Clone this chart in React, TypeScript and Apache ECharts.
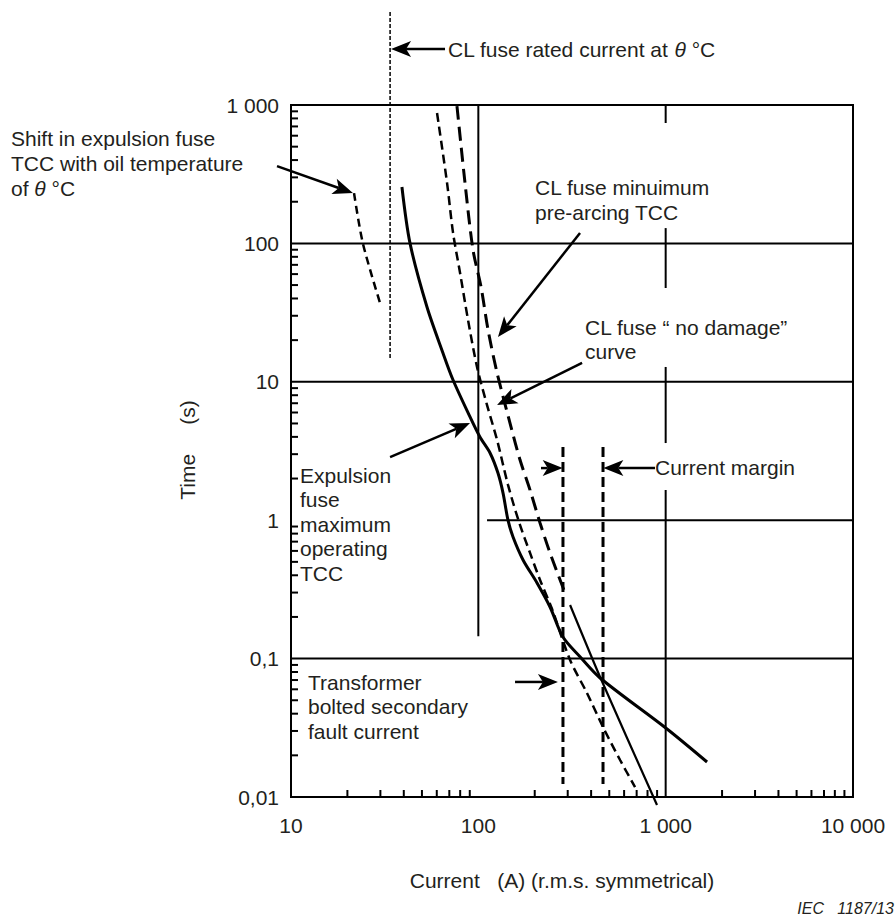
import React, { useEffect, useRef } from "react";
import * as echarts from "echarts";

// ---- Axis tick labels (decades) ----
const xTickLabels = ["10", "100", "1 000", "10 000"];
const yTickLabels = ["0,01", "0,1", "1", "10", "100", "1 000"];
const xDecades = [10, 100, 1000];
const yDecades = [0.01, 0.1, 1, 10, 100];
const minorMultipliers = [2, 3, 4, 5, 6, 7, 8, 9];

// ---- Curves: current (A) vs time (s) ----
const shiftCurrent = [21.7, 24.2, 29.9];
const shiftTime = [231, 100, 37];

const ratedCurrent = [33.8, 33.8];
const ratedTime = [4700, 14.4];

const expulsionCurrent = [39.1, 43.2, 53.2, 64.8, 73.3, 90.3, 102, 115.5, 127.3, 135.5, 144, 153.2, 173.3, 205.8, 241.4, 283, 349, 446.6, 1017, 1663];
const expulsionTime = [255.6, 100, 34.7, 16.1, 10.3, 5.57, 3.99, 3.06, 2.19, 1.57, 1.0, 0.756, 0.516, 0.352, 0.236, 0.143, 0.103, 0.0724, 0.031, 0.0179];

const preArcCurrent = [76.9, 84.9, 93.7, 103.4, 112.7, 125.9, 149.5, 167, 188.8, 213.5, 241.4, 290.3];
const preArcTime = [983, 273, 89.6, 48.4, 23.7, 11.6, 4.71, 2.72, 1.65, 0.955, 0.58, 0.298];

const clearCurrent = [308.8, 446.6, 899];
const clearTime = [0.244, 0.0736, 0.00875];

const noDamageCurrent = [60.2, 68.1, 73.3, 79.9, 88.1, 98.4, 111.3, 125.9, 144, 164.9, 188.8, 213.5, 247.5, 308.8, 380, 463, 571, 686.5];
const noDamageTime = [875, 273, 119, 61.1, 28.0, 12.8, 6.79, 3.8, 1.8, 0.97, 0.58, 0.37, 0.228, 0.0977, 0.0564, 0.032, 0.0185, 0.0118];

const marginLowCurrent = [283, 283];
const marginHighCurrent = [463, 463];
const marginTime = [3.38, 0.0124];

// ---- Grid line segments [x1, y1, x2, y2] in data units ----
const gridSegments = [
  [10, 100, 10000, 100],
  [10, 10, 10000, 10],
  [111.3, 1, 10000, 1],
  [10, 0.1, 10000, 0.1],
  [100, 1000, 100, 0.145],
  [1000, 1000, 1000, 741],
  [1000, 129, 1000, 47.6],
  [1000, 12.8, 1000, 3.61],
  [1000, 1.65, 1000, 0.01],
];

// ---- Annotation arrows [tailX, tailY, headX, headY] in data units ----
const arrows = [
  [66.4, 2539, 34.2, 2539],
  [8.42, 362, 21.4, 231],
  [349, 119, 127.3, 21.1],
  [358, 13.7, 125.9, 6.79],
  [33.8, 2.86, 90.3, 5.04],
  [216, 2.38, 282, 2.38],
  [877, 2.38, 465, 2.38],
  [157, 0.0678, 266, 0.0678],
];

const zip = (a: number[], b: number[]) => a.map((v, i) => [v, b[i]]);

const TEXT = "#231f20";
const FONT = "Liberation Sans, Arial, sans-serif";

export default function App() {
  const ref = useRef<HTMLDivElement>(null);

  useEffect(() => {
    if (!ref.current) return;
    const chart = echarts.init(ref.current, undefined, { renderer: "svg" });

    const xMinor: number[][] = [];
    xDecades.forEach((d) => minorMultipliers.forEach((m) => xMinor.push([d * m, 0.01])));
    const yMinor: number[][] = [];
    yDecades.forEach((d) => minorMultipliers.forEach((m) => yMinor.push([10, d * m])));

    const lineSeries = (data: number[][], width: number, type: any, smooth: any = false) => ({
      type: "line",
      data,
      showSymbol: false,
      symbol: "none",
      smooth,
      clip: false,
      silent: true,
      lineStyle: { color: "#000", width, type, cap: "butt" },
      z: 5,
    });

    const option: any = {
      animation: false,
      grid: {
        left: 291,
        right: 43,
        top: 105,
        bottom: 118,
        show: true,
        borderColor: "#000",
        borderWidth: 2,
      },
      xAxis: {
        type: "log",
        logBase: 10,
        min: 10,
        max: 10000,
        axisLine: { show: true, lineStyle: { color: "#000", width: 2 } },
        axisTick: { show: false },
        splitLine: { show: false },
        axisLabel: {
          margin: 18,
          fontSize: 21,
          fontFamily: FONT,
          color: TEXT,
          formatter: (v: number) => xTickLabels[Math.round(Math.log10(v)) - 1] ?? "",
        },
      },
      yAxis: {
        type: "log",
        logBase: 10,
        min: 0.01,
        max: 1000,
        axisLine: { show: true, lineStyle: { color: "#000", width: 2 } },
        axisTick: { show: false },
        splitLine: { show: false },
        axisLabel: {
          margin: 12,
          fontSize: 21,
          fontFamily: FONT,
          color: TEXT,
          formatter: (v: number) => yTickLabels[Math.round(Math.log10(v)) + 2] ?? "",
        },
      },
      series: [
        {
          type: "custom",
          coordinateSystem: "cartesian2d",
          silent: true,
          data: gridSegments,
          encode: { x: [0, 2], y: [1, 3] },
          renderItem: (_p: any, api: any) => {
            const a = api.coord([api.value(0), api.value(1)]);
            const b = api.coord([api.value(2), api.value(3)]);
            return {
              type: "line",
              shape: { x1: a[0], y1: a[1], x2: b[0], y2: b[1] },
              style: { stroke: "#000", lineWidth: 2 },
            };
          },
          z: 2,
        },
        {
          type: "custom",
          coordinateSystem: "cartesian2d",
          silent: true,
          data: xMinor,
          renderItem: (_p: any, api: any) => {
            const a = api.coord([api.value(0), api.value(1)]);
            return {
              type: "line",
              shape: { x1: a[0], y1: a[1], x2: a[0], y2: a[1] - 7 },
              style: { stroke: "#000", lineWidth: 2 },
            };
          },
          z: 2,
        },
        {
          type: "custom",
          coordinateSystem: "cartesian2d",
          silent: true,
          data: yMinor,
          renderItem: (_p: any, api: any) => {
            const a = api.coord([api.value(0), api.value(1)]);
            return {
              type: "line",
              shape: { x1: a[0], y1: a[1], x2: a[0] + 7, y2: a[1] },
              style: { stroke: "#000", lineWidth: 2 },
            };
          },
          z: 2,
        },
        lineSeries(zip(shiftCurrent, shiftTime), 2.5, [8, 5], 0.3),
        lineSeries(zip(ratedCurrent, ratedTime), 1.5, [4, 2]),
        lineSeries(zip(expulsionCurrent, expulsionTime), 3, "solid", 0.3),
        lineSeries(zip(preArcCurrent, preArcTime), 3, [14, 7], 0.3),
        lineSeries(zip(clearCurrent, clearTime), 2.2, "solid", 0.2),
        lineSeries(zip(noDamageCurrent, noDamageTime), 2.5, [9, 5], 0.3),
        lineSeries(zip(marginLowCurrent, marginTime), 3, [10, 5]),
        lineSeries(zip(marginHighCurrent, marginTime), 3, [10, 5]),
        {
          type: "custom",
          coordinateSystem: "cartesian2d",
          silent: true,
          data: arrows,
          encode: { x: [0, 2], y: [1, 3] },
          renderItem: (_p: any, api: any) => {
            const p1 = api.coord([api.value(0), api.value(1)]);
            const p2 = api.coord([api.value(2), api.value(3)]);
            const dx = p2[0] - p1[0];
            const dy = p2[1] - p1[1];
            const L = Math.hypot(dx, dy) || 1;
            const ux = dx / L;
            const uy = dy / L;
            const nx = -uy;
            const ny = ux;
            const hl = 20;
            const hw = 8;
            const notch = 5;
            const base = [p2[0] - ux * hl, p2[1] - uy * hl];
            const neck = [p2[0] - ux * (hl - notch), p2[1] - uy * (hl - notch)];
            return {
              type: "group",
              children: [
                {
                  type: "line",
                  shape: { x1: p1[0], y1: p1[1], x2: neck[0], y2: neck[1] },
                  style: { stroke: "#000", lineWidth: 2.5 },
                },
                {
                  type: "polygon",
                  shape: {
                    points: [
                      [p2[0], p2[1]],
                      [base[0] + nx * hw, base[1] + ny * hw],
                      neck,
                      [base[0] - nx * hw, base[1] - ny * hw],
                    ],
                  },
                  style: { fill: "#000" },
                },
              ],
            };
          },
          z: 10,
        },
      ],
      graphic: [
        ...[
          { x: 11, y: 125.5, lh: 25, text: "Shift in expulsion fuse\nTCC with oil temperature\nof {i|θ} °C" },
          { x: 448, y: 36.5, lh: 25, text: "CL fuse rated current at {i|θ} °C" },
          { x: 535, y: 174.5, lh: 25, text: "CL fuse minuimum\npre-arcing TCC" },
          { x: 585, y: 315, lh: 24, text: "CL fuse “ no damage”\ncurve" },
          { x: 300, y: 463, lh: 24.5, text: "Expulsion\nfuse\nmaximum\noperating\nTCC" },
          { x: 655, y: 455, lh: 25, text: "Current margin" },
          { x: 308, y: 670, lh: 24.5, text: "Transformer\nbolted secondary\nfault current" },
        ].map((t) => ({
          type: "text",
          x: t.x,
          y: t.y,
          z: 20,
          style: {
            text: t.text,
            fill: TEXT,
            fontSize: 21,
            fontFamily: FONT,
            lineHeight: t.lh,
            align: "left",
            verticalAlign: "top",
            rich: {
              i: { fontStyle: "italic", fontSize: 21, fontFamily: FONT, fill: TEXT, lineHeight: t.lh },
            },
          },
        })),
        {
          type: "text",
          x: 562,
          y: 880,
          style: {
            text: "Current   (A) (r.m.s. symmetrical)",
            fill: TEXT,
            fontSize: 21,
            fontFamily: FONT,
            align: "center",
            verticalAlign: "middle",
          },
        },
        {
          type: "text",
          x: 187,
          y: 450,
          rotation: Math.PI / 2,
          style: {
            text: "Time     (s)",
            fill: TEXT,
            fontSize: 21,
            fontFamily: FONT,
            align: "center",
            verticalAlign: "middle",
          },
        },
        {
          type: "text",
          x: 894,
          y: 908,
          style: {
            text: "IEC   1187/13",
            fill: TEXT,
            fontSize: 16,
            fontStyle: "italic",
            fontFamily: FONT,
            align: "right",
            verticalAlign: "middle",
          },
        },
      ],
    };

    chart.setOption(option);
    return () => chart.dispose();
  }, []);

  return (
    <div
      ref={ref}
      style={{ position: "absolute", left: 0, top: 0, width: 896, height: 915, background: "#fff" }}
    />
  );
}
